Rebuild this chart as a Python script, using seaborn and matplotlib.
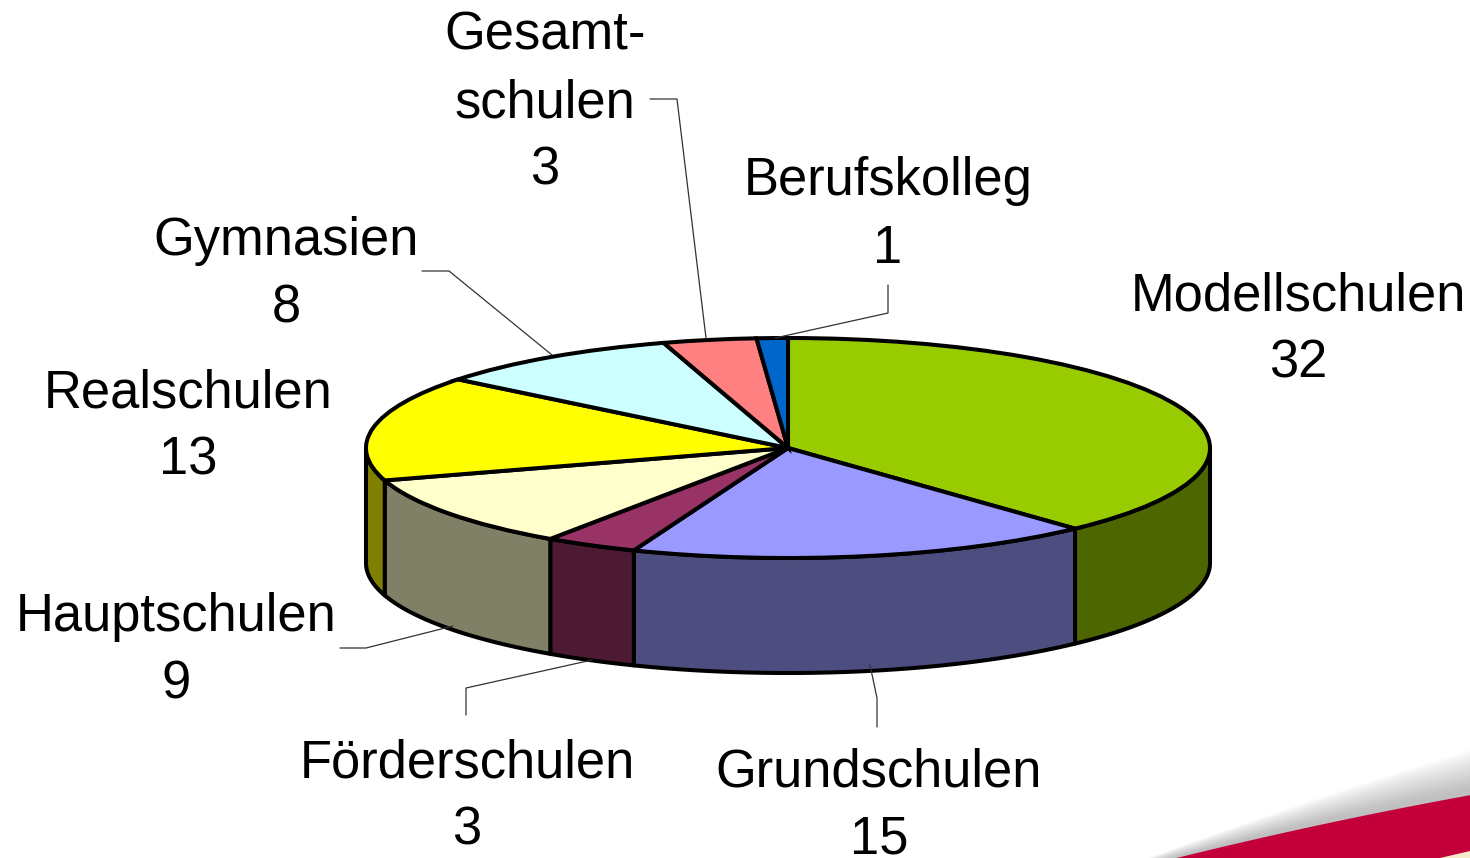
import numpy as np
import matplotlib
matplotlib.use("Agg")
import matplotlib.pyplot as plt
import seaborn as sns

categories = ["Modellschulen", "Grundschulen", "Förderschulen", "Hauptschulen",
              "Realschulen", "Gymnasien", "Gesamt-\nschulen", "Berufskolleg"]
values = [32, 15, 3, 9, 13, 8, 3, 1]
top_colors = ["#99CC00", "#9999FF", "#993366", "#FFFFCC",
              "#FFFF00", "#CCFFFF", "#FF8080", "#0066CC"]
side_colors = ["#4D6600", "#4D4D80", "#4D1A33", "#808066",
               "#808000", "#668080", "#804040", "#003366"]
label_xy = [(1298, 330), (879, 806), (467, 797), (176, 651),
            (188, 427), (286, 275), (545, 103), (888, 215)]
leaders = [None,
           [(877, 727), (877, 698), (870, 665)],
           [(466, 715), (466, 688), (592, 660)],
           [(340, 648), (366, 648), (453, 626)],
           None,
           [(422, 271), (449, 271), (552, 355)],
           [(650, 99), (677, 99), (706, 338)],
           [(888, 285), (888, 313), (775, 338)]]

W, H = 1470, 858
CX, CY, RX, RY, DEPTH = 788, 448, 422, 110, 115

sns.set_theme(style="white")
plt.rcParams["font.family"] = ["Liberation Sans", "DejaVu Sans"]
fig = plt.figure(figsize=(W / 100, H / 100), dpi=100, facecolor="white")

# page decoration and labels in pixel coordinates
bg = fig.add_axes([0, 0, 1, 1], zorder=1)
bg.set_xlim(0, W); bg.set_ylim(H, 0); bg.axis("off")
cx = np.array([1173, 1300, 1367, 1470.0])
cy = np.array([858, 830, 813, 795.0])
xs = np.linspace(1090, 1470, 120)
ys = np.polyval(np.polyfit(cx, cy, 2), xs)
frac = np.clip((xs - 1090) / 380, 0, 1)
for off in np.arange(2, 44, 2):
    bg.fill_between(xs, ys - off * frac - 3 * frac, H, color="#707070", alpha=0.025, lw=0)
bg.fill_between(xs, ys, H, where=xs >= 1173, color="#C4003A", lw=0, zorder=3)
bg.fill([1440, 1470, 1470], [858, 851, 858], color="#F5EBCB", lw=0, zorder=4)

# the pie itself, squashed by its data limits
ax = fig.add_axes([0, 0, 1, 1], zorder=2)
ax.patch.set_alpha(0)
depth = DEPTH / RY
edges = np.concatenate([[0], np.cumsum(values)]) / sum(values) * 2 * np.pi
lw = 2.9
for i in range(len(values)):
    a, b = max(edges[i], np.pi / 2), min(edges[i + 1], 3 * np.pi / 2)
    if b <= a:
        continue
    t = np.linspace(a, b, 80)
    px = np.sin(t)
    py = np.cos(t)
    ax.fill(np.r_[px, px[::-1]], np.r_[py, py[::-1] - depth],
            facecolor=side_colors[i], edgecolor="black", lw=lw, joinstyle="round")
ax.pie(values, colors=top_colors, startangle=90, counterclock=False, radius=1,
       wedgeprops=dict(edgecolor="black", linewidth=lw))
ax.set_aspect("auto")
ax.set_xlim((0 - CX) / RX, (W - CX) / RX)
ax.set_ylim((CY - H) / RY, CY / RY)
ax.axis("off")

# labels on top
fg = fig.add_axes([0, 0, 1, 1], zorder=3)
fg.set_xlim(0, W); fg.set_ylim(H, 0); fg.axis("off")
fg.patch.set_alpha(0)
for name, val, (x, y), lead in zip(categories, values, label_xy, leaders):
    fg.text(x, y, f"{name}\n{val}", ha="center", va="center", fontsize=37.8,
            color="black", linespacing=1.46, clip_on=True)
    if lead:
        fg.plot(*zip(*lead), color="#333333", lw=0.9)

fig.savefig("out.png", dpi=100)
